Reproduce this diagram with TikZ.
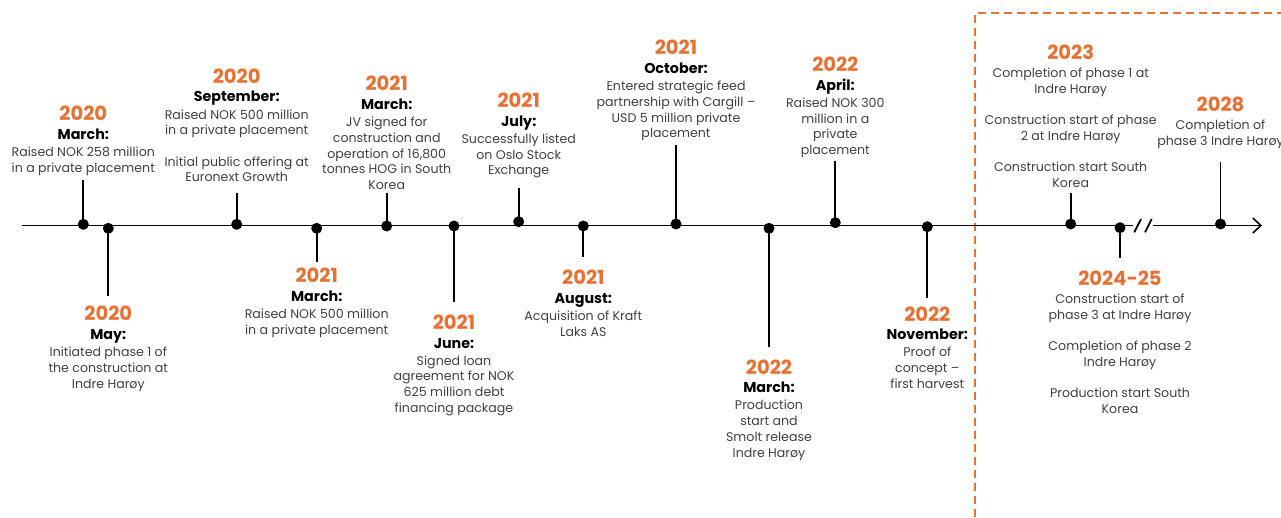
\documentclass[tikz,border=0pt]{standalone}
\usepackage{fontspec}
\setmainfont{Poppins}
\usetikzlibrary{arrows.meta}
\definecolor{orng}{RGB}{232,112,48}
\definecolor{dgray}{RGB}{64,64,64}
\tikzset{
  dot/.style={circle,fill=black,minimum size=11pt,inner sep=0pt},
  stem/.style={line width=1.8pt,black},
  axis/.style={line width=1.8pt,black},
  yr/.style={font=\fontsize{19.5}{20}\selectfont\bfseries,text=orng,anchor=base,inner sep=0pt},
  mo/.style={font=\fontsize{14.3}{15}\selectfont\bfseries,text=black,anchor=base,inner sep=0pt},
  ds/.style={font=\fontsize{12.6}{15.7}\selectfont,text=dgray,align=center,anchor=north,inner sep=0pt},
  future/.style={orng,line width=1.6pt,dash pattern=on 8pt off 5pt}
}
% strut height = 0.7*15.7 = 10.99
% id, x, dotY, stemY, yearBase, year, month, desc
\newcommand\evm[8]{%
  \coordinate (#1s) at (#2,#4);
  \node[dot] (#1) at (#2,#3) {};
  \draw[stem] (#1.center) -- (#1s);
  \node[yr] (#1y) at (#2,#5) {#6};
  \node[mo] (#1m) at (#2,#5+18.7) {#7};
  \node[ds] (#1d) at (#2,#5+35.7-10.99) {\strut#8};
}
% id, x, dotY, stemY, yearBase, year, desc
\newcommand\evn[7]{%
  \coordinate (#1s) at (#2,#4);
  \node[dot] (#1) at (#2,#3) {};
  \draw[stem] (#1.center) -- (#1s);
  \node[yr] (#1y) at (#2,#5) {#6};
  \node[ds] (#1d) at (#2,#5+17.5-10.99) {\strut#7};
}
\begin{document}
\begin{tikzpicture}[x=1pt,y=-1pt]
\useasboundingbox (0,0) rectangle (1281,518);
\fill[white] (0,0) rectangle (1281,518);
% future region
\coordinate (fbl) at (975,530);
\coordinate (ftl) at (975,13.3);
\coordinate (ftr) at (1295,13.3);
\draw[future] (fbl) -- (ftl) -- (ftr);
% axis
\coordinate (a0) at (21.7,225.5);
\coordinate (a1) at (1133.3,225.5);
\coordinate (a2) at (1153.3,225.5);
\coordinate (a3) at (1262,225.5);
\draw[axis] (a0) -- (a1);
\draw[axis,-{Straight Barb[length=8pt,width=15pt,line width=1.6pt]}] (a2) -- (a3);
\coordinate (b1a) at (1134.3,232.3); \coordinate (b1b) at (1141,219);
\coordinate (b2a) at (1145,232.3); \coordinate (b2b) at (1151.7,219);
\draw[axis] (b1a) -- (b1b);
\draw[axis] (b2a) -- (b2b);
% events
\evm{e1}{83.3}{224.3}{180}{121}{2020}{March:}{Raised NOK 258 million\\in a private placement}
\evm{e2}{108.3}{228.3}{296}{320.7}{2020}{May:}{Initiated phase 1 of\\the construction at\\Indre Harøy}
\evm{e3}{236.7}{224.3}{192.7}{83.3}{2020}{September:}{Raised NOK 500 million\\in a private placement\\[15.7pt]Initial public offering at\\Euronext Growth}
\evm{e4}{316.7}{228.3}{261.7}{282.7}{2021}{March:}{Raised NOK 500 million\\in a private placement}
\evm{e5}{386.7}{226}{193.3}{91}{2021}{March:}{JV signed for\\construction and\\operation of 16,800\\tonnes HOG in South\\Korea}
\evm{e6}{454}{226}{302.3}{329.3}{2021}{June:}{Signed loan\\agreement for NOK\\625 million debt\\financing package}
\evm{e7}{518.7}{221.7}{188.3}{107.7}{2021}{July:}{Successfully listed\\on Oslo Stock\\Exchange}
\evm{e8}{583.3}{226}{256.7}{285}{2021}{August:}{Acquisition of Kraft\\Laks AS}
\evm{e9}{676}{224}{145}{55}{2021}{October:}{Entered strategic feed\\partnership with Cargill –\\USD 5 million private\\placement}
\evm{e10}{769}{228.3}{346.7}{374}{2022}{March:}{Production\\start and\\Smolt release\\Indre Harøy}
\evm{e11}{835.3}{222.7}{160.7}{71.7}{2022}{April:}{Raised NOK 300\\million in a\\private\\placement}
\evm{e12}{927.3}{226.7}{297.7}{321}{2022}{November:}{Proof of\\concept –\\first harvest}
\evn{e13}{1070.7}{224}{192.7}{60}{2023}{Completion of phase 1 at\\Indre Harøy\\[15.7pt]Construction start of phase\\2 at Indre Harøy\\[15.7pt]Construction start South\\Korea}
\evn{e14}{1120}{227.7}{258.3}{285.7}{2024-25}{Construction start of\\phase 3 at Indre Harøy\\[15.7pt]Completion of phase 2\\Indre Harøy\\[15.7pt]Production start South\\Korea}
\evn{e15}{1220.5}{224}{161.7}{111.7}{2028}{Completion of\\phase 3 Indre Harøy}
\end{tikzpicture}
\end{document}
